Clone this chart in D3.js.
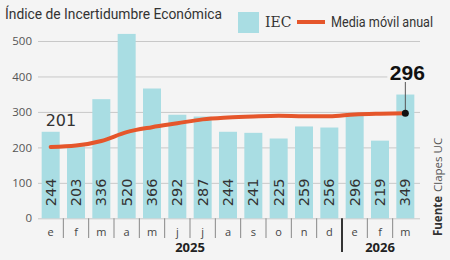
<!DOCTYPE html>
<html>
<head>
<meta charset="utf-8">
<script src="https://cdn.jsdelivr.net/npm/d3@7"></script>
<style>
  body { margin: 0; background: #f4f4f4; }
  svg { display: block; font-family: "DejaVu Sans", sans-serif; }
</style>
</head>
<body>
<div id="chart"></div>
<script>
// data
var months = ["e", "f", "m", "a", "m", "j", "j", "a", "s", "o", "n", "d", "e", "f", "m"];
var years = ["2025", "2025", "2025", "2025", "2025", "2025", "2025", "2025", "2025", "2025", "2025", "2025", "2026", "2026", "2026"];
var iec = [244, 203, 336, 520, 366, 292, 287, 244, 241, 225, 259, 256, 296, 219, 349];
var mediaMovil = [201, 205, 218, 243, 257, 268, 279, 284, 287, 289, 288, 288, 293, 295, 296];
var yTicks = [0, 100, 200, 300, 400, 500];

var width = 450, height = 260;
var plotLeft = 38, plotRight = 418, plotBottom = 218.3, plotTop = 41;

var svg = d3.select('#chart')
    .append('svg')
    .attr('width', width)
    .attr('height', height);

svg.append('rect')
    .attr('width', width)
    .attr('height', height)
    .attr('fill', '#f4f4f4');

var idx = d3.range(iec.length);

var x = d3.scaleBand()
    .domain(idx)
    .range([plotLeft, plotRight])
    .paddingInner(0.29)
    .paddingOuter(0.145);

var y = d3.scaleLinear()
    .domain([0, 500])
    .range([plotBottom, plotTop]);

// y axis + gridlines
var yAxis = svg.append('g')
    .attr('transform', 'translate(' + plotLeft + ',0)')
    .call(d3.axisLeft(y).tickValues(yTicks).tickSize(-(plotRight - plotLeft + 2)).tickPadding(6));
yAxis.select('.domain').remove();
yAxis.selectAll('.tick line').attr('stroke', '#c8c8c8').attr('stroke-width', 1);
yAxis.selectAll('.tick text')
    .attr('fill', '#555')
    .attr('font-size', 11.5)
    .attr('font-family', '"Open Sans", sans-serif');

// bars
svg.selectAll('rect.bar')
    .data(iec)
    .enter()
    .append('rect')
    .attr('class', 'bar')
    .attr('x', function (d, i) { return x(i); })
    .attr('y', function (d) { return y(d); })
    .attr('width', x.bandwidth())
    .attr('height', function (d) { return y(0) - y(d); })
    .attr('fill', '#a9dde3');

// bar values (rotated)
svg.selectAll('text.val')
    .data(iec)
    .enter()
    .append('text')
    .attr('class', 'val')
    .attr('transform', function (d, i) {
        return 'translate(' + (x(i) + x.bandwidth() / 2 + 5) + ',' + (y(0) - 12) + ') rotate(-90)';
    })
    .attr('font-size', 14.5)
    .attr('fill', '#333')
    .attr('font-family', '"DejaVu Sans", sans-serif')
    .text(function (d) { return d; });

// x axis separators
var seps = idx.slice(1);
svg.selectAll('line.sep')
    .data(seps)
    .enter()
    .append('line')
    .attr('class', 'sep')
    .attr('x1', function (i) { return x(i) - x.step() * 0.145; })
    .attr('x2', function (i) { return x(i) - x.step() * 0.145; })
    .attr('y1', plotBottom)
    .attr('y2', function (i) { return years[i] !== years[i - 1] ? 252 : 238; })
    .attr('stroke', function (i) { return years[i] !== years[i - 1] ? '#333' : '#888'; })
    .attr('stroke-width', function (i) { return years[i] !== years[i - 1] ? 2 : 1; });

svg.selectAll('text.month')
    .data(months)
    .enter()
    .append('text')
    .attr('class', 'month')
    .attr('x', function (d, i) { return x(i) + x.bandwidth() / 2; })
    .attr('y', 236)
    .attr('text-anchor', 'middle')
    .attr('font-size', 11)
    .attr('fill', '#444')
    .attr('font-family', '"Open Sans", sans-serif')
    .text(function (d) { return d; });

var yearGroups = d3.groups(idx, function (i) { return years[i]; });
svg.selectAll('text.year')
    .data(yearGroups)
    .enter()
    .append('text')
    .attr('class', 'year')
    .attr('x', function (g) {
        var a = g[1][0], b = g[1][g[1].length - 1];
        return (x(a) + x(b) + x.bandwidth()) / 2;
    })
    .attr('y', 252)
    .attr('text-anchor', 'middle')
    .attr('font-size', 13)
    .attr('font-weight', 'bold')
    .attr('fill', '#222')
    .attr('font-family', '"Open Sans", sans-serif')
    .text(function (g) { return g[0]; });

// moving average line
var line = d3.line()
    .x(function (d, i) { return x(i) + x.bandwidth() / 2; })
    .y(function (d) { return y(d); })
    .curve(d3.curveMonotoneX);

svg.append('path')
    .datum(mediaMovil)
    .attr('d', line)
    .attr('fill', 'none')
    .attr('stroke', '#e5562b')
    .attr('stroke-width', 4)
    .attr('stroke-linecap', 'round');

// first value label
svg.append('text')
    .attr('x', x(0) + x.bandwidth() / 2 - 5)
    .attr('y', 126)
    .attr('font-size', 16)
    .attr('fill', '#333')
    .attr('font-family', '"DejaVu Sans", sans-serif')
    .text(mediaMovil[0]);

// last value label with leader
var last = mediaMovil.length - 1;
var lx = x(last) + x.bandwidth() / 2;
svg.append('rect')
    .attr('x', lx - 18)
    .attr('y', 62)
    .attr('width', 36)
    .attr('height', 20)
    .attr('fill', '#f4f4f4');
svg.append('line')
    .attr('x1', lx).attr('x2', lx)
    .attr('y1', y(mediaMovil[last]))
    .attr('y2', 82)
    .attr('stroke', '#555')
    .attr('stroke-width', 1);
svg.append('circle')
    .attr('cx', lx)
    .attr('cy', y(mediaMovil[last]))
    .attr('r', 3.5)
    .attr('fill', '#111');
svg.append('text')
    .attr('x', lx + 2)
    .attr('y', 80)
    .attr('text-anchor', 'middle')
    .attr('font-size', 21)
    .attr('font-weight', 'bold')
    .attr('fill', '#111')
    .attr('font-family', '"Liberation Sans", sans-serif')
    .text(mediaMovil[last]);

// title
svg.append('text')
    .attr('x', 5)
    .attr('y', 19)
    .attr('font-size', 15)
    .attr('fill', '#333')
    .attr('font-family', 'Roboto, sans-serif')
    .attr('textLength', 217)
    .attr('lengthAdjust', 'spacingAndGlyphs')
    .text('Índice de Incertidumbre Económica');

// legend
svg.append('rect')
    .attr('x', 238).attr('y', 12)
    .attr('width', 21).attr('height', 21)
    .attr('fill', '#a9dde3');
svg.append('text')
    .attr('x', 265).attr('y', 27)
    .attr('font-size', 14)
    .attr('fill', '#333')
    .attr('font-family', '"DejaVu Serif", serif')
    .text('IEC');
svg.append('line')
    .attr('x1', 297).attr('x2', 325)
    .attr('y1', 22).attr('y2', 22)
    .attr('stroke', '#e5562b')
    .attr('stroke-width', 4);
svg.append('text')
    .attr('x', 331).attr('y', 27)
    .attr('font-size', 14)
    .attr('fill', '#333')
    .attr('font-family', 'Roboto, sans-serif')
    .attr('textLength', 102)
    .attr('lengthAdjust', 'spacingAndGlyphs')
    .text('Media móvil anual');

// source
var src = svg.append('text')
    .attr('transform', 'translate(442,236) rotate(-90)')
    .attr('font-size', 11.5)
    .attr('fill', '#333')
    .attr('font-family', '"Open Sans", sans-serif');
src.append('tspan').attr('font-weight', 'bold').text('Fuente');
src.append('tspan').attr('dx', 4).attr('fill', '#555').text('Clapes UC');
</script>
</body>
</html>
